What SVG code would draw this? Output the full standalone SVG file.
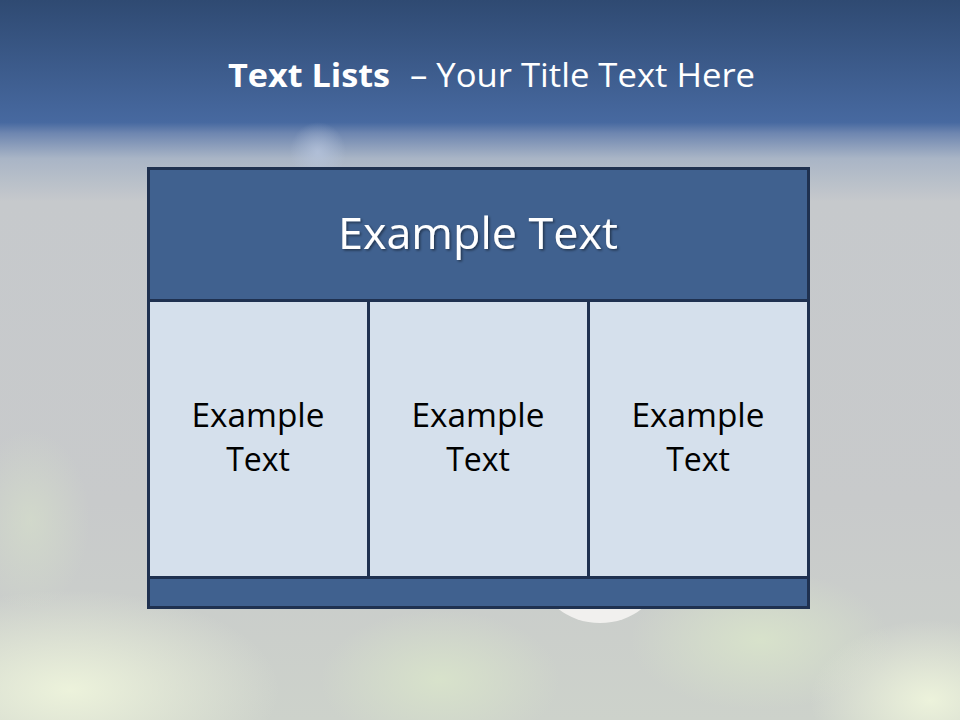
<svg xmlns="http://www.w3.org/2000/svg" width="960" height="720" viewBox="0 0 960 720">
<defs>
<linearGradient id="bg" x1="0" y1="0" x2="0" y2="1">
<stop offset="0" stop-color="#2f4a72"/>
<stop offset="0.17" stop-color="#4769a0"/>
<stop offset="0.185" stop-color="#6e86b0"/>
<stop offset="0.22" stop-color="#a9b5c6"/>
<stop offset="0.28" stop-color="#c6c9cc"/>
<stop offset="0.7" stop-color="#c8cacb"/>
<stop offset="1" stop-color="#cdd2cb"/>
</linearGradient>
<radialGradient id="g1" cx="0.5" cy="0.5" r="0.5">
<stop offset="0" stop-color="#eef4dc" stop-opacity="0.95"/>
<stop offset="1" stop-color="#eef4dc" stop-opacity="0"/>
</radialGradient>
<radialGradient id="g2" cx="0.5" cy="0.5" r="0.5">
<stop offset="0" stop-color="#d9e4cb" stop-opacity="0.9"/>
<stop offset="1" stop-color="#d9e4cb" stop-opacity="0"/>
</radialGradient>
<radialGradient id="sp" cx="0.5" cy="0.5" r="0.5">
<stop offset="0" stop-color="#b9c7e0" stop-opacity="0.7"/>
<stop offset="1" stop-color="#b9c7e0" stop-opacity="0"/>
</radialGradient>
<filter id="sh" x="-10%" y="-20%" width="120%" height="140%">
<feDropShadow dx="1.5" dy="1.5" stdDeviation="1" flood-color="#000" flood-opacity="0.45"/>
</filter>
</defs>
<style>
.hd{fill:#40618f;stroke:#1f3150;stroke-width:3}
.cell{fill:#d5e0ec;stroke:#1f3150;stroke-width:3}
.ct{font-family:"Open Sans","Liberation Sans",sans-serif;font-size:32px;fill:#000;text-anchor:middle}
</style>
<rect width="960" height="720" fill="url(#bg)"/>
<ellipse cx="70" cy="690" rx="210" ry="100" fill="url(#g1)"/>
<ellipse cx="440" cy="680" rx="120" ry="70" fill="url(#g2)"/>
<ellipse cx="760" cy="640" rx="130" ry="70" fill="url(#g2)"/>
<ellipse cx="930" cy="700" rx="120" ry="80" fill="url(#g1)"/>
<ellipse cx="30" cy="520" rx="60" ry="90" fill="url(#g2)" opacity="0.6"/>
<ellipse cx="318" cy="152" rx="28" ry="30" fill="url(#sp)"/>
<ellipse cx="600" cy="573" rx="60" ry="50" fill="#f1f0ee"/>
<g id="title" font-family="'Open Sans','Liberation Sans',sans-serif" font-size="32" fill="#fff">
<text x="228" y="87" font-weight="bold" textLength="162" lengthAdjust="spacingAndGlyphs">Text Lists</text>
<text x="410" y="87" textLength="345" lengthAdjust="spacingAndGlyphs">– Your Title Text Here</text>
</g>
<g id="header">
<rect class="hd" x="148.5" y="168.5" width="660" height="132"/>
<text x="478" y="249" text-anchor="middle" font-family="'Open Sans','Liberation Sans',sans-serif" font-size="43" fill="#fff" filter="url(#sh)" textLength="280" lengthAdjust="spacingAndGlyphs">Example Text</text>
</g>
<g id="cell1">
<rect class="cell" x="148.5" y="300.5" width="220" height="277"/>
<text class="ct" x="258" y="427" textLength="133" lengthAdjust="spacingAndGlyphs">Example</text>
<text class="ct" x="258" y="471">Text</text>
</g>
<g id="cell2">
<rect class="cell" x="368.5" y="300.5" width="220" height="277"/>
<text class="ct" x="478" y="427" textLength="133" lengthAdjust="spacingAndGlyphs">Example</text>
<text class="ct" x="478" y="471">Text</text>
</g>
<g id="cell3">
<rect class="cell" x="588.5" y="300.5" width="220" height="277"/>
<text class="ct" x="698" y="427" textLength="133" lengthAdjust="spacingAndGlyphs">Example</text>
<text class="ct" x="698" y="471">Text</text>
</g>
<g id="footer">
<rect class="hd" x="148.5" y="577.5" width="660" height="30"/>
</g>
<g id="connectors"/>
</svg>
